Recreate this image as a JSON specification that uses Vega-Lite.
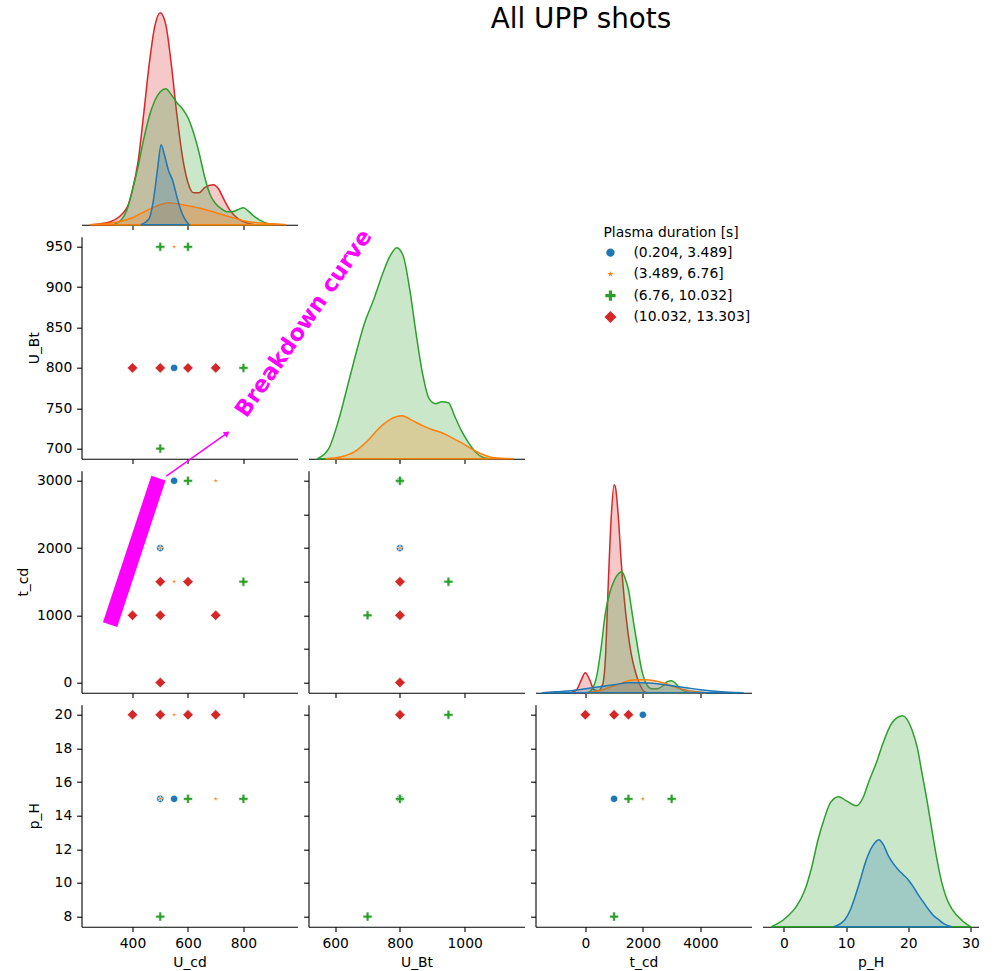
{
"$schema":"https://vega.github.io/schema/vega-lite/v6.json",
"padding":{"left":16.5,"top":2.7,"right":5,"bottom":2},
"title":{"text":"All UPP shots","fontSize":27.8,"font":"DejaVu Sans","fontWeight":"normal","color":"black","anchor":"middle","frame":"group","dx":499.5,"offset":-31},
"columns":4,
"spacing":{"row":12,"column":11},
"bounds":"flush",
"resolve":{"legend":{"color":"independent","shape":"independent"}},
"datasets":{
"pts":[
{"panel":"A","x":500,"y":950,"group":"(6.76, 10.032]"},
{"panel":"A","x":550,"y":950,"group":"(3.489, 6.76]"},
{"panel":"A","x":600,"y":950,"group":"(6.76, 10.032]"},
{"panel":"A","x":400,"y":800,"group":"(10.032, 13.303]"},
{"panel":"A","x":500,"y":800,"group":"(10.032, 13.303]"},
{"panel":"A","x":550,"y":800,"group":"(0.204, 3.489]"},
{"panel":"A","x":600,"y":800,"group":"(10.032, 13.303]"},
{"panel":"A","x":700,"y":800,"group":"(10.032, 13.303]"},
{"panel":"A","x":800,"y":800,"group":"(6.76, 10.032]"},
{"panel":"A","x":500,"y":700,"group":"(6.76, 10.032]"},
{"panel":"B","x":550,"y":3000,"group":"(0.204, 3.489]"},
{"panel":"B","x":600,"y":3000,"group":"(6.76, 10.032]"},
{"panel":"B","x":700,"y":3000,"group":"(3.489, 6.76]"},
{"panel":"B","x":500,"y":2000,"group":"(0.204, 3.489]"},
{"panel":"B","x":500,"y":2000,"group":"(3.489, 6.76]"},
{"panel":"B","x":500,"y":1500,"group":"(10.032, 13.303]"},
{"panel":"B","x":550,"y":1500,"group":"(3.489, 6.76]"},
{"panel":"B","x":600,"y":1500,"group":"(10.032, 13.303]"},
{"panel":"B","x":800,"y":1500,"group":"(6.76, 10.032]"},
{"panel":"B","x":400,"y":1000,"group":"(10.032, 13.303]"},
{"panel":"B","x":500,"y":1000,"group":"(10.032, 13.303]"},
{"panel":"B","x":700,"y":1000,"group":"(10.032, 13.303]"},
{"panel":"B","x":500,"y":0,"group":"(10.032, 13.303]"},
{"panel":"C","x":800,"y":3000,"group":"(0.204, 3.489]"},
{"panel":"C","x":800,"y":3000,"group":"(3.489, 6.76]"},
{"panel":"C","x":800,"y":3000,"group":"(6.76, 10.032]"},
{"panel":"C","x":800,"y":2000,"group":"(0.204, 3.489]"},
{"panel":"C","x":800,"y":2000,"group":"(3.489, 6.76]"},
{"panel":"C","x":800,"y":1500,"group":"(10.032, 13.303]"},
{"panel":"C","x":950,"y":1500,"group":"(6.76, 10.032]"},
{"panel":"C","x":700,"y":1000,"group":"(6.76, 10.032]"},
{"panel":"C","x":800,"y":1000,"group":"(10.032, 13.303]"},
{"panel":"C","x":800,"y":0,"group":"(10.032, 13.303]"},
{"panel":"D","x":400,"y":20,"group":"(10.032, 13.303]"},
{"panel":"D","x":500,"y":20,"group":"(10.032, 13.303]"},
{"panel":"D","x":550,"y":20,"group":"(3.489, 6.76]"},
{"panel":"D","x":600,"y":20,"group":"(10.032, 13.303]"},
{"panel":"D","x":700,"y":20,"group":"(10.032, 13.303]"},
{"panel":"D","x":500,"y":15,"group":"(0.204, 3.489]"},
{"panel":"D","x":500,"y":15,"group":"(3.489, 6.76]"},
{"panel":"D","x":550,"y":15,"group":"(0.204, 3.489]"},
{"panel":"D","x":600,"y":15,"group":"(6.76, 10.032]"},
{"panel":"D","x":700,"y":15,"group":"(3.489, 6.76]"},
{"panel":"D","x":800,"y":15,"group":"(6.76, 10.032]"},
{"panel":"D","x":500,"y":8,"group":"(6.76, 10.032]"},
{"panel":"E","x":800,"y":20,"group":"(10.032, 13.303]"},
{"panel":"E","x":950,"y":20,"group":"(6.76, 10.032]"},
{"panel":"E","x":800,"y":15,"group":"(0.204, 3.489]"},
{"panel":"E","x":800,"y":15,"group":"(3.489, 6.76]"},
{"panel":"E","x":800,"y":15,"group":"(6.76, 10.032]"},
{"panel":"E","x":700,"y":8,"group":"(6.76, 10.032]"},
{"panel":"F","x":0,"y":20,"group":"(10.032, 13.303]"},
{"panel":"F","x":1000,"y":20,"group":"(10.032, 13.303]"},
{"panel":"F","x":1500,"y":20,"group":"(10.032, 13.303]"},
{"panel":"F","x":2000,"y":20,"group":"(0.204, 3.489]"},
{"panel":"F","x":1000,"y":15,"group":"(0.204, 3.489]"},
{"panel":"F","x":1500,"y":15,"group":"(6.76, 10.032]"},
{"panel":"F","x":2000,"y":15,"group":"(3.489, 6.76]"},
{"panel":"F","x":3000,"y":15,"group":"(3.489, 6.76]"},
{"panel":"F","x":3000,"y":15,"group":"(6.76, 10.032]"},
{"panel":"F","x":1000,"y":8,"group":"(6.76, 10.032]"}
],
"kde":[
{"var":"U_cd","group":"(10.032, 13.303]","value":250,"density":0},
{"var":"U_cd","group":"(10.032, 13.303]","value":320,"density":0.003},
{"var":"U_cd","group":"(10.032, 13.303]","value":380,"density":0.017},
{"var":"U_cd","group":"(10.032, 13.303]","value":400,"density":0.035},
{"var":"U_cd","group":"(10.032, 13.303]","value":420,"density":0.063},
{"var":"U_cd","group":"(10.032, 13.303]","value":440,"density":0.110},
{"var":"U_cd","group":"(10.032, 13.303]","value":460,"density":0.160},
{"var":"U_cd","group":"(10.032, 13.303]","value":480,"density":0.198},
{"var":"U_cd","group":"(10.032, 13.303]","value":500,"density":0.212},
{"var":"U_cd","group":"(10.032, 13.303]","value":520,"density":0.200},
{"var":"U_cd","group":"(10.032, 13.303]","value":540,"density":0.160},
{"var":"U_cd","group":"(10.032, 13.303]","value":560,"density":0.110},
{"var":"U_cd","group":"(10.032, 13.303]","value":580,"density":0.068},
{"var":"U_cd","group":"(10.032, 13.303]","value":600,"density":0.042},
{"var":"U_cd","group":"(10.032, 13.303]","value":620,"density":0.032},
{"var":"U_cd","group":"(10.032, 13.303]","value":640,"density":0.032},
{"var":"U_cd","group":"(10.032, 13.303]","value":660,"density":0.037},
{"var":"U_cd","group":"(10.032, 13.303]","value":690,"density":0.040},
{"var":"U_cd","group":"(10.032, 13.303]","value":710,"density":0.036},
{"var":"U_cd","group":"(10.032, 13.303]","value":730,"density":0.025},
{"var":"U_cd","group":"(10.032, 13.303]","value":750,"density":0.015},
{"var":"U_cd","group":"(10.032, 13.303]","value":780,"density":0.006},
{"var":"U_cd","group":"(10.032, 13.303]","value":810,"density":0.002},
{"var":"U_cd","group":"(10.032, 13.303]","value":840,"density":0},
{"var":"U_cd","group":"(6.76, 10.032]","value":330,"density":0},
{"var":"U_cd","group":"(6.76, 10.032]","value":360,"density":0.005},
{"var":"U_cd","group":"(6.76, 10.032]","value":380,"density":0.015},
{"var":"U_cd","group":"(6.76, 10.032]","value":400,"density":0.035},
{"var":"U_cd","group":"(6.76, 10.032]","value":420,"density":0.058},
{"var":"U_cd","group":"(6.76, 10.032]","value":440,"density":0.085},
{"var":"U_cd","group":"(6.76, 10.032]","value":460,"density":0.108},
{"var":"U_cd","group":"(6.76, 10.032]","value":480,"density":0.124},
{"var":"U_cd","group":"(6.76, 10.032]","value":500,"density":0.133},
{"var":"U_cd","group":"(6.76, 10.032]","value":520,"density":0.136},
{"var":"U_cd","group":"(6.76, 10.032]","value":540,"density":0.130},
{"var":"U_cd","group":"(6.76, 10.032]","value":560,"density":0.122},
{"var":"U_cd","group":"(6.76, 10.032]","value":580,"density":0.116},
{"var":"U_cd","group":"(6.76, 10.032]","value":600,"density":0.107},
{"var":"U_cd","group":"(6.76, 10.032]","value":620,"density":0.092},
{"var":"U_cd","group":"(6.76, 10.032]","value":640,"density":0.072},
{"var":"U_cd","group":"(6.76, 10.032]","value":660,"density":0.048},
{"var":"U_cd","group":"(6.76, 10.032]","value":680,"density":0.030},
{"var":"U_cd","group":"(6.76, 10.032]","value":700,"density":0.021},
{"var":"U_cd","group":"(6.76, 10.032]","value":720,"density":0.016},
{"var":"U_cd","group":"(6.76, 10.032]","value":740,"density":0.013},
{"var":"U_cd","group":"(6.76, 10.032]","value":760,"density":0.013},
{"var":"U_cd","group":"(6.76, 10.032]","value":780,"density":0.015},
{"var":"U_cd","group":"(6.76, 10.032]","value":800,"density":0.017},
{"var":"U_cd","group":"(6.76, 10.032]","value":820,"density":0.013},
{"var":"U_cd","group":"(6.76, 10.032]","value":840,"density":0.008},
{"var":"U_cd","group":"(6.76, 10.032]","value":870,"density":0.003},
{"var":"U_cd","group":"(6.76, 10.032]","value":900,"density":0},
{"var":"U_cd","group":"(3.489, 6.76]","value":245,"density":0},
{"var":"U_cd","group":"(3.489, 6.76]","value":300,"density":0.001},
{"var":"U_cd","group":"(3.489, 6.76]","value":350,"density":0.003},
{"var":"U_cd","group":"(3.489, 6.76]","value":400,"density":0.007},
{"var":"U_cd","group":"(3.489, 6.76]","value":450,"density":0.014},
{"var":"U_cd","group":"(3.489, 6.76]","value":500,"density":0.020},
{"var":"U_cd","group":"(3.489, 6.76]","value":530,"density":0.022},
{"var":"U_cd","group":"(3.489, 6.76]","value":560,"density":0.021},
{"var":"U_cd","group":"(3.489, 6.76]","value":600,"density":0.019},
{"var":"U_cd","group":"(3.489, 6.76]","value":650,"density":0.016},
{"var":"U_cd","group":"(3.489, 6.76]","value":700,"density":0.012},
{"var":"U_cd","group":"(3.489, 6.76]","value":750,"density":0.008},
{"var":"U_cd","group":"(3.489, 6.76]","value":800,"density":0.004},
{"var":"U_cd","group":"(3.489, 6.76]","value":850,"density":0.002},
{"var":"U_cd","group":"(3.489, 6.76]","value":900,"density":0.001},
{"var":"U_cd","group":"(3.489, 6.76]","value":955,"density":0},
{"var":"U_cd","group":"(0.204, 3.489]","value":430,"density":0},
{"var":"U_cd","group":"(0.204, 3.489]","value":460,"density":0.006},
{"var":"U_cd","group":"(0.204, 3.489]","value":475,"density":0.024},
{"var":"U_cd","group":"(0.204, 3.489]","value":490,"density":0.055},
{"var":"U_cd","group":"(0.204, 3.489]","value":503,"density":0.080},
{"var":"U_cd","group":"(0.204, 3.489]","value":515,"density":0.070},
{"var":"U_cd","group":"(0.204, 3.489]","value":530,"density":0.054},
{"var":"U_cd","group":"(0.204, 3.489]","value":545,"density":0.044},
{"var":"U_cd","group":"(0.204, 3.489]","value":560,"density":0.028},
{"var":"U_cd","group":"(0.204, 3.489]","value":575,"density":0.014},
{"var":"U_cd","group":"(0.204, 3.489]","value":590,"density":0.005},
{"var":"U_cd","group":"(0.204, 3.489]","value":605,"density":0},
{"var":"U_Bt","group":"(6.76, 10.032]","value":545,"density":0},
{"var":"U_Bt","group":"(6.76, 10.032]","value":580,"density":0.010},
{"var":"U_Bt","group":"(6.76, 10.032]","value":610,"density":0.038},
{"var":"U_Bt","group":"(6.76, 10.032]","value":640,"density":0.075},
{"var":"U_Bt","group":"(6.76, 10.032]","value":660,"density":0.100},
{"var":"U_Bt","group":"(6.76, 10.032]","value":690,"density":0.135},
{"var":"U_Bt","group":"(6.76, 10.032]","value":720,"density":0.160},
{"var":"U_Bt","group":"(6.76, 10.032]","value":750,"density":0.188},
{"var":"U_Bt","group":"(6.76, 10.032]","value":770,"density":0.203},
{"var":"U_Bt","group":"(6.76, 10.032]","value":790,"density":0.211},
{"var":"U_Bt","group":"(6.76, 10.032]","value":810,"density":0.203},
{"var":"U_Bt","group":"(6.76, 10.032]","value":830,"density":0.170},
{"var":"U_Bt","group":"(6.76, 10.032]","value":850,"density":0.125},
{"var":"U_Bt","group":"(6.76, 10.032]","value":870,"density":0.085},
{"var":"U_Bt","group":"(6.76, 10.032]","value":890,"density":0.060},
{"var":"U_Bt","group":"(6.76, 10.032]","value":910,"density":0.055},
{"var":"U_Bt","group":"(6.76, 10.032]","value":930,"density":0.057},
{"var":"U_Bt","group":"(6.76, 10.032]","value":950,"density":0.056},
{"var":"U_Bt","group":"(6.76, 10.032]","value":970,"density":0.042},
{"var":"U_Bt","group":"(6.76, 10.032]","value":990,"density":0.028},
{"var":"U_Bt","group":"(6.76, 10.032]","value":1010,"density":0.017},
{"var":"U_Bt","group":"(6.76, 10.032]","value":1030,"density":0.008},
{"var":"U_Bt","group":"(6.76, 10.032]","value":1060,"density":0.001},
{"var":"U_Bt","group":"(6.76, 10.032]","value":1080,"density":0},
{"var":"U_Bt","group":"(3.489, 6.76]","value":570,"density":0},
{"var":"U_Bt","group":"(3.489, 6.76]","value":620,"density":0.002},
{"var":"U_Bt","group":"(3.489, 6.76]","value":660,"density":0.007},
{"var":"U_Bt","group":"(3.489, 6.76]","value":700,"density":0.018},
{"var":"U_Bt","group":"(3.489, 6.76]","value":740,"density":0.032},
{"var":"U_Bt","group":"(3.489, 6.76]","value":780,"density":0.041},
{"var":"U_Bt","group":"(3.489, 6.76]","value":806,"density":0.043},
{"var":"U_Bt","group":"(3.489, 6.76]","value":840,"density":0.038},
{"var":"U_Bt","group":"(3.489, 6.76]","value":870,"density":0.033},
{"var":"U_Bt","group":"(3.489, 6.76]","value":900,"density":0.029},
{"var":"U_Bt","group":"(3.489, 6.76]","value":930,"density":0.026},
{"var":"U_Bt","group":"(3.489, 6.76]","value":960,"density":0.021},
{"var":"U_Bt","group":"(3.489, 6.76]","value":990,"density":0.016},
{"var":"U_Bt","group":"(3.489, 6.76]","value":1020,"density":0.010},
{"var":"U_Bt","group":"(3.489, 6.76]","value":1050,"density":0.005},
{"var":"U_Bt","group":"(3.489, 6.76]","value":1090,"density":0.001},
{"var":"U_Bt","group":"(3.489, 6.76]","value":1150,"density":0},
{"var":"t_cd","group":"(10.032, 13.303]","value":-500,"density":0},
{"var":"t_cd","group":"(10.032, 13.303]","value":-300,"density":0.003},
{"var":"t_cd","group":"(10.032, 13.303]","value":-150,"density":0.012},
{"var":"t_cd","group":"(10.032, 13.303]","value":0,"density":0.020},
{"var":"t_cd","group":"(10.032, 13.303]","value":150,"density":0.013},
{"var":"t_cd","group":"(10.032, 13.303]","value":300,"density":0.003},
{"var":"t_cd","group":"(10.032, 13.303]","value":450,"density":0.002},
{"var":"t_cd","group":"(10.032, 13.303]","value":600,"density":0.008},
{"var":"t_cd","group":"(10.032, 13.303]","value":700,"density":0.035},
{"var":"t_cd","group":"(10.032, 13.303]","value":800,"density":0.110},
{"var":"t_cd","group":"(10.032, 13.303]","value":900,"density":0.175},
{"var":"t_cd","group":"(10.032, 13.303]","value":1000,"density":0.208},
{"var":"t_cd","group":"(10.032, 13.303]","value":1050,"density":0.205},
{"var":"t_cd","group":"(10.032, 13.303]","value":1150,"density":0.175},
{"var":"t_cd","group":"(10.032, 13.303]","value":1250,"density":0.130},
{"var":"t_cd","group":"(10.032, 13.303]","value":1350,"density":0.095},
{"var":"t_cd","group":"(10.032, 13.303]","value":1450,"density":0.068},
{"var":"t_cd","group":"(10.032, 13.303]","value":1600,"density":0.038},
{"var":"t_cd","group":"(10.032, 13.303]","value":1750,"density":0.020},
{"var":"t_cd","group":"(10.032, 13.303]","value":1900,"density":0.008},
{"var":"t_cd","group":"(10.032, 13.303]","value":2050,"density":0.001},
{"var":"t_cd","group":"(10.032, 13.303]","value":2150,"density":0},
{"var":"t_cd","group":"(6.76, 10.032]","value":100,"density":0},
{"var":"t_cd","group":"(6.76, 10.032]","value":250,"density":0.004},
{"var":"t_cd","group":"(6.76, 10.032]","value":400,"density":0.017},
{"var":"t_cd","group":"(6.76, 10.032]","value":550,"density":0.045},
{"var":"t_cd","group":"(6.76, 10.032]","value":700,"density":0.080},
{"var":"t_cd","group":"(6.76, 10.032]","value":850,"density":0.100},
{"var":"t_cd","group":"(6.76, 10.032]","value":1000,"density":0.112},
{"var":"t_cd","group":"(6.76, 10.032]","value":1150,"density":0.119},
{"var":"t_cd","group":"(6.76, 10.032]","value":1270,"density":0.121},
{"var":"t_cd","group":"(6.76, 10.032]","value":1400,"density":0.113},
{"var":"t_cd","group":"(6.76, 10.032]","value":1500,"density":0.103},
{"var":"t_cd","group":"(6.76, 10.032]","value":1600,"density":0.085},
{"var":"t_cd","group":"(6.76, 10.032]","value":1700,"density":0.066},
{"var":"t_cd","group":"(6.76, 10.032]","value":1850,"density":0.040},
{"var":"t_cd","group":"(6.76, 10.032]","value":1950,"density":0.024},
{"var":"t_cd","group":"(6.76, 10.032]","value":2100,"density":0.010},
{"var":"t_cd","group":"(6.76, 10.032]","value":2300,"density":0.004},
{"var":"t_cd","group":"(6.76, 10.032]","value":2500,"density":0.004},
{"var":"t_cd","group":"(6.76, 10.032]","value":2700,"density":0.007},
{"var":"t_cd","group":"(6.76, 10.032]","value":2850,"density":0.011},
{"var":"t_cd","group":"(6.76, 10.032]","value":3000,"density":0.012},
{"var":"t_cd","group":"(6.76, 10.032]","value":3150,"density":0.009},
{"var":"t_cd","group":"(6.76, 10.032]","value":3300,"density":0.004},
{"var":"t_cd","group":"(6.76, 10.032]","value":3500,"density":0.001},
{"var":"t_cd","group":"(6.76, 10.032]","value":3700,"density":0},
{"var":"t_cd","group":"(3.489, 6.76]","value":0,"density":0},
{"var":"t_cd","group":"(3.489, 6.76]","value":300,"density":0.001},
{"var":"t_cd","group":"(3.489, 6.76]","value":600,"density":0.003},
{"var":"t_cd","group":"(3.489, 6.76]","value":900,"density":0.006},
{"var":"t_cd","group":"(3.489, 6.76]","value":1200,"density":0.009},
{"var":"t_cd","group":"(3.489, 6.76]","value":1500,"density":0.012},
{"var":"t_cd","group":"(3.489, 6.76]","value":1800,"density":0.013},
{"var":"t_cd","group":"(3.489, 6.76]","value":2100,"density":0.013},
{"var":"t_cd","group":"(3.489, 6.76]","value":2400,"density":0.012},
{"var":"t_cd","group":"(3.489, 6.76]","value":2700,"density":0.010},
{"var":"t_cd","group":"(3.489, 6.76]","value":3000,"density":0.007},
{"var":"t_cd","group":"(3.489, 6.76]","value":3300,"density":0.004},
{"var":"t_cd","group":"(3.489, 6.76]","value":3600,"density":0.002},
{"var":"t_cd","group":"(3.489, 6.76]","value":3900,"density":0.001},
{"var":"t_cd","group":"(3.489, 6.76]","value":4200,"density":0},
{"var":"t_cd","group":"(0.204, 3.489]","value":-1500,"density":0},
{"var":"t_cd","group":"(0.204, 3.489]","value":-1000,"density":0.001},
{"var":"t_cd","group":"(0.204, 3.489]","value":-500,"density":0.002},
{"var":"t_cd","group":"(0.204, 3.489]","value":0,"density":0.004},
{"var":"t_cd","group":"(0.204, 3.489]","value":500,"density":0.006},
{"var":"t_cd","group":"(0.204, 3.489]","value":1000,"density":0.008},
{"var":"t_cd","group":"(0.204, 3.489]","value":1500,"density":0.010},
{"var":"t_cd","group":"(0.204, 3.489]","value":2000,"density":0.010},
{"var":"t_cd","group":"(0.204, 3.489]","value":2500,"density":0.009},
{"var":"t_cd","group":"(0.204, 3.489]","value":3000,"density":0.007},
{"var":"t_cd","group":"(0.204, 3.489]","value":3500,"density":0.005},
{"var":"t_cd","group":"(0.204, 3.489]","value":4000,"density":0.003},
{"var":"t_cd","group":"(0.204, 3.489]","value":4500,"density":0.0015},
{"var":"t_cd","group":"(0.204, 3.489]","value":5000,"density":0.0005},
{"var":"t_cd","group":"(0.204, 3.489]","value":5500,"density":0},
{"var":"p_H","group":"(6.76, 10.032]","value":-2,"density":0},
{"var":"p_H","group":"(6.76, 10.032]","value":-1,"density":0.003},
{"var":"p_H","group":"(6.76, 10.032]","value":0.7,"density":0.011},
{"var":"p_H","group":"(6.76, 10.032]","value":2,"density":0.020},
{"var":"p_H","group":"(6.76, 10.032]","value":3.4,"density":0.037},
{"var":"p_H","group":"(6.76, 10.032]","value":4.5,"density":0.060},
{"var":"p_H","group":"(6.76, 10.032]","value":5.5,"density":0.087},
{"var":"p_H","group":"(6.76, 10.032]","value":6.5,"density":0.108},
{"var":"p_H","group":"(6.76, 10.032]","value":7.5,"density":0.124},
{"var":"p_H","group":"(6.76, 10.032]","value":8.8,"density":0.130},
{"var":"p_H","group":"(6.76, 10.032]","value":10,"density":0.126},
{"var":"p_H","group":"(6.76, 10.032]","value":11.7,"density":0.121},
{"var":"p_H","group":"(6.76, 10.032]","value":12.8,"density":0.130},
{"var":"p_H","group":"(6.76, 10.032]","value":13.6,"density":0.144},
{"var":"p_H","group":"(6.76, 10.032]","value":15,"density":0.166},
{"var":"p_H","group":"(6.76, 10.032]","value":15.8,"density":0.181},
{"var":"p_H","group":"(6.76, 10.032]","value":17.4,"density":0.204},
{"var":"p_H","group":"(6.76, 10.032]","value":19.1,"density":0.211},
{"var":"p_H","group":"(6.76, 10.032]","value":20.6,"density":0.197},
{"var":"p_H","group":"(6.76, 10.032]","value":21.5,"density":0.178},
{"var":"p_H","group":"(6.76, 10.032]","value":22.2,"density":0.154},
{"var":"p_H","group":"(6.76, 10.032]","value":23,"density":0.127},
{"var":"p_H","group":"(6.76, 10.032]","value":23.8,"density":0.097},
{"var":"p_H","group":"(6.76, 10.032]","value":24.6,"density":0.068},
{"var":"p_H","group":"(6.76, 10.032]","value":25.4,"density":0.044},
{"var":"p_H","group":"(6.76, 10.032]","value":26.2,"density":0.028},
{"var":"p_H","group":"(6.76, 10.032]","value":27.1,"density":0.017},
{"var":"p_H","group":"(6.76, 10.032]","value":28.7,"density":0.006},
{"var":"p_H","group":"(6.76, 10.032]","value":30,"density":0},
{"var":"p_H","group":"(0.204, 3.489]","value":8,"density":0},
{"var":"p_H","group":"(0.204, 3.489]","value":9.8,"density":0.007},
{"var":"p_H","group":"(0.204, 3.489]","value":10.7,"density":0.017},
{"var":"p_H","group":"(0.204, 3.489]","value":11.5,"density":0.031},
{"var":"p_H","group":"(0.204, 3.489]","value":12.3,"density":0.047},
{"var":"p_H","group":"(0.204, 3.489]","value":13.1,"density":0.064},
{"var":"p_H","group":"(0.204, 3.489]","value":14.2,"density":0.080},
{"var":"p_H","group":"(0.204, 3.489]","value":15.3,"density":0.087},
{"var":"p_H","group":"(0.204, 3.489]","value":16,"density":0.082},
{"var":"p_H","group":"(0.204, 3.489]","value":16.8,"density":0.071},
{"var":"p_H","group":"(0.204, 3.489]","value":17.6,"density":0.063},
{"var":"p_H","group":"(0.204, 3.489]","value":18.4,"density":0.057},
{"var":"p_H","group":"(0.204, 3.489]","value":19.2,"density":0.052},
{"var":"p_H","group":"(0.204, 3.489]","value":20,"density":0.047},
{"var":"p_H","group":"(0.204, 3.489]","value":20.8,"density":0.040},
{"var":"p_H","group":"(0.204, 3.489]","value":21.7,"density":0.031},
{"var":"p_H","group":"(0.204, 3.489]","value":22.5,"density":0.024},
{"var":"p_H","group":"(0.204, 3.489]","value":23.3,"density":0.017},
{"var":"p_H","group":"(0.204, 3.489]","value":24.1,"density":0.011},
{"var":"p_H","group":"(0.204, 3.489]","value":24.9,"density":0.007},
{"var":"p_H","group":"(0.204, 3.489]","value":26,"density":0.002},
{"var":"p_H","group":"(0.204, 3.489]","value":27,"density":0}
]
},
"concat":[
{"width":216,"height":222,"data":{"name":"kde"},"transform":[{"filter":"datum.var === 'U_cd'"}],
 "mark":{"type":"area","fillOpacity":0.25,"strokeWidth":1.5,"interpolate":"monotone"},
 "encoding":{
  "x":{"field":"value","type":"quantitative","scale":{"domain":[216,995],"nice":false,"zero":false},"axis":{"values":[400,600,800],"labels":false,"title":null}},
  "y":{"field":"density","type":"quantitative","stack":null,"scale":{"domain":[0,0.222],"nice":false},"axis":null},
  "fill":{"field":"group","type":"nominal","scale":{"domain":["(0.204, 3.489]","(3.489, 6.76]","(6.76, 10.032]","(10.032, 13.303]"],"range":["#1f77b4","#ff7f0e","#2ca02c","#d62728"]},"legend":null},
  "stroke":{"field":"group","type":"nominal","scale":{"domain":["(0.204, 3.489]","(3.489, 6.76]","(6.76, 10.032]","(10.032, 13.303]"],"range":["#1f77b4","#ff7f0e","#2ca02c","#d62728"]},"legend":null}
 }},
{"width":216,"height":222,"data":{"values":[{}]},"mark":{"type":"point","opacity":0},"encoding":{}},
{"width":216,"height":222,"data":{"values":[{}]},"mark":{"type":"point","opacity":0},"encoding":{}},
{"width":216,"height":222,"data":{"values":[{}]},"mark":{"type":"point","opacity":0},"encoding":{}},
{"width":216,"height":222,
 "layer":[
  {"data":{"name":"pts"},"transform":[{"filter":"datum.panel === 'A'"}],
   "mark":{"type":"point","filled":true,"opacity":1,"size":100,"stroke":"white","strokeWidth":0.6},
   "encoding":{
    "x":{"field":"x","type":"quantitative","scale":{"domain":[216,995],"nice":false,"zero":false},"axis":{"values":[400,600,800],"labels":false,"title":null}},
    "y":{"field":"y","type":"quantitative","scale":{"domain":[687.5,962.5],"nice":false,"zero":false},"axis":{"values":[700,750,800,850,900,950],"title":"U_Bt","titleX":-40}},
    "color":{"field":"group","type":"nominal","scale":{"domain":["(0.204, 3.489]","(3.489, 6.76]","(6.76, 10.032]","(10.032, 13.303]"],"range":["#1f77b4","#ff7f0e","#2ca02c","#d62728"]},"legend":{"title":"Plasma duration [s]","orient":"none","legendX":522,"legendY":-11}},
    "shape":{"field":"group","type":"nominal","scale":{"domain":["(0.204, 3.489]","(3.489, 6.76]","(6.76, 10.032]","(10.032, 13.303]"],"range":["M-0.73,0A0.73,0.73,0,1,1,0.73,0A0.73,0.73,0,1,1,-0.73,0Z","M0,-0.55L0.123,-0.17L0.523,-0.17L0.2,0.065L0.323,0.445L0,0.21L-0.323,0.445L-0.2,0.065L-0.523,-0.17L-0.123,-0.17Z","M-0.28,-0.9L0.28,-0.9L0.28,-0.28L0.9,-0.28L0.9,0.28L0.28,0.28L0.28,0.9L-0.28,0.9L-0.28,0.28L-0.9,0.28L-0.9,-0.28L-0.28,-0.28Z","M0,-1.05L1.05,0L0,1.05L-1.05,0Z"]},"legend":{"title":"Plasma duration [s]","orient":"none","legendX":522,"legendY":-11}}
   }},
  {"data":{"values":[{"x":522,"y":666,"x2":745,"y2":720}]},
   "mark":{"type":"rule","color":"#ff00ff","strokeWidth":1.5},
   "encoding":{"x":{"field":"x","type":"quantitative"},"y":{"field":"y","type":"quantitative"},"x2":{"field":"x2"},"y2":{"field":"y2"}}},
  {"data":{"values":[{"x":741,"y":719}]},
   "mark":{"type":"point","shape":"triangle-up","filled":true,"color":"#ff00ff","opacity":1,"angle":55,"size":45},
   "encoding":{"x":{"field":"x","type":"quantitative"},"y":{"field":"y","type":"quantitative"}}},
  {"data":{"values":[{"x":1018,"y":855,"label":"Breakdown curve"}]},
   "mark":{"type":"text","angle":-55.4,"fontSize":22.7,"fontWeight":"bold","font":"DejaVu Sans","color":"#ff00ff","align":"center","baseline":"middle"},
   "encoding":{"x":{"field":"x","type":"quantitative"},"y":{"field":"y","type":"quantitative"},"text":{"field":"label"}}}
 ]},
{"width":216,"height":222,"data":{"name":"kde"},"transform":[{"filter":"datum.var === 'U_Bt'"}],
 "mark":{"type":"area","fillOpacity":0.25,"strokeWidth":1.5,"interpolate":"monotone"},
 "encoding":{
  "x":{"field":"value","type":"quantitative","scale":{"domain":[517.5,1185],"nice":false,"zero":false},"axis":{"values":[600,800,1000],"labels":false,"title":null}},
  "y":{"field":"density","type":"quantitative","stack":null,"scale":{"domain":[0,0.222],"nice":false},"axis":null},
  "fill":{"field":"group","type":"nominal","scale":{"domain":["(0.204, 3.489]","(3.489, 6.76]","(6.76, 10.032]","(10.032, 13.303]"],"range":["#1f77b4","#ff7f0e","#2ca02c","#d62728"]},"legend":null},
  "stroke":{"field":"group","type":"nominal","scale":{"domain":["(0.204, 3.489]","(3.489, 6.76]","(6.76, 10.032]","(10.032, 13.303]"],"range":["#1f77b4","#ff7f0e","#2ca02c","#d62728"]},"legend":null}
 }},
{"width":216,"height":222,"data":{"values":[{}]},"mark":{"type":"point","opacity":0},"encoding":{}},
{"width":216,"height":222,"data":{"values":[{}]},"mark":{"type":"point","opacity":0},"encoding":{}},
{"width":216,"height":222,
 "layer":[
  {"data":{"name":"pts"},"transform":[{"filter":"datum.panel === 'B'"}],
   "mark":{"type":"point","filled":true,"opacity":1,"size":100,"stroke":"white","strokeWidth":0.6},
   "encoding":{
    "x":{"field":"x","type":"quantitative","scale":{"domain":[216,995],"nice":false,"zero":false},"axis":{"values":[400,600,800],"labels":false,"title":null}},
    "y":{"field":"y","type":"quantitative","scale":{"domain":[-150,3150],"nice":false,"zero":false},"axis":{"values":[0,500,1000,1500,2000,2500,3000],"format":"d","title":"t_cd","titleX":-51}},
    "color":{"field":"group","type":"nominal","scale":{"domain":["(0.204, 3.489]","(3.489, 6.76]","(6.76, 10.032]","(10.032, 13.303]"],"range":["#1f77b4","#ff7f0e","#2ca02c","#d62728"]},"legend":null},
    "shape":{"field":"group","type":"nominal","scale":{"domain":["(0.204, 3.489]","(3.489, 6.76]","(6.76, 10.032]","(10.032, 13.303]"],"range":["M-0.73,0A0.73,0.73,0,1,1,0.73,0A0.73,0.73,0,1,1,-0.73,0Z","M0,-0.55L0.123,-0.17L0.523,-0.17L0.2,0.065L0.323,0.445L0,0.21L-0.323,0.445L-0.2,0.065L-0.523,-0.17L-0.123,-0.17Z","M-0.28,-0.9L0.28,-0.9L0.28,-0.28L0.9,-0.28L0.9,0.28L0.28,0.28L0.28,0.9L-0.28,0.9L-0.28,0.28L-0.9,0.28L-0.9,-0.28L-0.28,-0.28Z","M0,-1.05L1.05,0L0,1.05L-1.05,0Z"]},"legend":null}
   }},
  {"data":{"values":[{"x":319,"y":863,"x2":493.5,"y2":3040}]},
   "mark":{"type":"rule","color":"#ff00ff","strokeWidth":15,"strokeCap":"butt"},
   "encoding":{"x":{"field":"x","type":"quantitative"},"y":{"field":"y","type":"quantitative"},"x2":{"field":"x2"},"y2":{"field":"y2"}}}
 ]},
{"width":216,"height":222,"data":{"name":"pts"},"transform":[{"filter":"datum.panel === 'C'"}],
 "mark":{"type":"point","filled":true,"opacity":1,"size":100,"stroke":"white","strokeWidth":0.6},
 "encoding":{
  "x":{"field":"x","type":"quantitative","scale":{"domain":[517.5,1185],"nice":false,"zero":false},"axis":{"values":[600,800,1000],"labels":false,"title":null}},
  "y":{"field":"y","type":"quantitative","scale":{"domain":[-150,3150],"nice":false,"zero":false},"axis":{"values":[0,500,1000,1500,2000,2500,3000],"labels":false,"title":null}},
  "color":{"field":"group","type":"nominal","scale":{"domain":["(0.204, 3.489]","(3.489, 6.76]","(6.76, 10.032]","(10.032, 13.303]"],"range":["#1f77b4","#ff7f0e","#2ca02c","#d62728"]},"legend":null},
  "shape":{"field":"group","type":"nominal","scale":{"domain":["(0.204, 3.489]","(3.489, 6.76]","(6.76, 10.032]","(10.032, 13.303]"],"range":["M-0.73,0A0.73,0.73,0,1,1,0.73,0A0.73,0.73,0,1,1,-0.73,0Z","M0,-0.55L0.123,-0.17L0.523,-0.17L0.2,0.065L0.323,0.445L0,0.21L-0.323,0.445L-0.2,0.065L-0.523,-0.17L-0.123,-0.17Z","M-0.28,-0.9L0.28,-0.9L0.28,-0.28L0.9,-0.28L0.9,0.28L0.28,0.28L0.28,0.9L-0.28,0.9L-0.28,0.28L-0.9,0.28L-0.9,-0.28L-0.28,-0.28Z","M0,-1.05L1.05,0L0,1.05L-1.05,0Z"]},"legend":null}
 }},
{"width":216,"height":222,"data":{"name":"kde"},"transform":[{"filter":"datum.var === 't_cd'"}],
 "mark":{"type":"area","fillOpacity":0.25,"strokeWidth":1.5,"interpolate":"monotone"},
 "encoding":{
  "x":{"field":"value","type":"quantitative","scale":{"domain":[-1730,5775],"nice":false,"zero":false},"axis":{"values":[0,2000,4000],"labels":false,"title":null}},
  "y":{"field":"density","type":"quantitative","stack":null,"scale":{"domain":[0,0.222],"nice":false},"axis":null},
  "fill":{"field":"group","type":"nominal","scale":{"domain":["(0.204, 3.489]","(3.489, 6.76]","(6.76, 10.032]","(10.032, 13.303]"],"range":["#1f77b4","#ff7f0e","#2ca02c","#d62728"]},"legend":null},
  "stroke":{"field":"group","type":"nominal","scale":{"domain":["(0.204, 3.489]","(3.489, 6.76]","(6.76, 10.032]","(10.032, 13.303]"],"range":["#1f77b4","#ff7f0e","#2ca02c","#d62728"]},"legend":null}
 }},
{"width":216,"height":222,"data":{"values":[{}]},"mark":{"type":"point","opacity":0},"encoding":{}},
{"width":216,"height":222,"data":{"name":"pts"},"transform":[{"filter":"datum.panel === 'D'"}],
 "mark":{"type":"point","filled":true,"opacity":1,"size":100,"stroke":"white","strokeWidth":0.6},
 "encoding":{
  "x":{"field":"x","type":"quantitative","scale":{"domain":[216,995],"nice":false,"zero":false},"axis":{"values":[400,600,800],"title":"U_cd"}},
  "y":{"field":"y","type":"quantitative","scale":{"domain":[7.4,20.6],"nice":false,"zero":false},"axis":{"values":[8,10,12,14,16,18,20],"title":"p_H","titleX":-40}},
  "color":{"field":"group","type":"nominal","scale":{"domain":["(0.204, 3.489]","(3.489, 6.76]","(6.76, 10.032]","(10.032, 13.303]"],"range":["#1f77b4","#ff7f0e","#2ca02c","#d62728"]},"legend":null},
  "shape":{"field":"group","type":"nominal","scale":{"domain":["(0.204, 3.489]","(3.489, 6.76]","(6.76, 10.032]","(10.032, 13.303]"],"range":["M-0.73,0A0.73,0.73,0,1,1,0.73,0A0.73,0.73,0,1,1,-0.73,0Z","M0,-0.55L0.123,-0.17L0.523,-0.17L0.2,0.065L0.323,0.445L0,0.21L-0.323,0.445L-0.2,0.065L-0.523,-0.17L-0.123,-0.17Z","M-0.28,-0.9L0.28,-0.9L0.28,-0.28L0.9,-0.28L0.9,0.28L0.28,0.28L0.28,0.9L-0.28,0.9L-0.28,0.28L-0.9,0.28L-0.9,-0.28L-0.28,-0.28Z","M0,-1.05L1.05,0L0,1.05L-1.05,0Z"]},"legend":null}
 }},
{"width":216,"height":222,"data":{"name":"pts"},"transform":[{"filter":"datum.panel === 'E'"}],
 "mark":{"type":"point","filled":true,"opacity":1,"size":100,"stroke":"white","strokeWidth":0.6},
 "encoding":{
  "x":{"field":"x","type":"quantitative","scale":{"domain":[517.5,1185],"nice":false,"zero":false},"axis":{"values":[600,800,1000],"format":"d","title":"U_Bt"}},
  "y":{"field":"y","type":"quantitative","scale":{"domain":[7.4,20.6],"nice":false,"zero":false},"axis":{"values":[8,10,12,14,16,18,20],"labels":false,"title":null}},
  "color":{"field":"group","type":"nominal","scale":{"domain":["(0.204, 3.489]","(3.489, 6.76]","(6.76, 10.032]","(10.032, 13.303]"],"range":["#1f77b4","#ff7f0e","#2ca02c","#d62728"]},"legend":null},
  "shape":{"field":"group","type":"nominal","scale":{"domain":["(0.204, 3.489]","(3.489, 6.76]","(6.76, 10.032]","(10.032, 13.303]"],"range":["M-0.73,0A0.73,0.73,0,1,1,0.73,0A0.73,0.73,0,1,1,-0.73,0Z","M0,-0.55L0.123,-0.17L0.523,-0.17L0.2,0.065L0.323,0.445L0,0.21L-0.323,0.445L-0.2,0.065L-0.523,-0.17L-0.123,-0.17Z","M-0.28,-0.9L0.28,-0.9L0.28,-0.28L0.9,-0.28L0.9,0.28L0.28,0.28L0.28,0.9L-0.28,0.9L-0.28,0.28L-0.9,0.28L-0.9,-0.28L-0.28,-0.28Z","M0,-1.05L1.05,0L0,1.05L-1.05,0Z"]},"legend":null}
 }},
{"width":216,"height":222,"data":{"name":"pts"},"transform":[{"filter":"datum.panel === 'F'"}],
 "mark":{"type":"point","filled":true,"opacity":1,"size":100,"stroke":"white","strokeWidth":0.6},
 "encoding":{
  "x":{"field":"x","type":"quantitative","scale":{"domain":[-1730,5775],"nice":false,"zero":false},"axis":{"values":[0,2000,4000],"format":"d","title":"t_cd"}},
  "y":{"field":"y","type":"quantitative","scale":{"domain":[7.4,20.6],"nice":false,"zero":false},"axis":{"values":[8,10,12,14,16,18,20],"labels":false,"title":null}},
  "color":{"field":"group","type":"nominal","scale":{"domain":["(0.204, 3.489]","(3.489, 6.76]","(6.76, 10.032]","(10.032, 13.303]"],"range":["#1f77b4","#ff7f0e","#2ca02c","#d62728"]},"legend":null},
  "shape":{"field":"group","type":"nominal","scale":{"domain":["(0.204, 3.489]","(3.489, 6.76]","(6.76, 10.032]","(10.032, 13.303]"],"range":["M-0.73,0A0.73,0.73,0,1,1,0.73,0A0.73,0.73,0,1,1,-0.73,0Z","M0,-0.55L0.123,-0.17L0.523,-0.17L0.2,0.065L0.323,0.445L0,0.21L-0.323,0.445L-0.2,0.065L-0.523,-0.17L-0.123,-0.17Z","M-0.28,-0.9L0.28,-0.9L0.28,-0.28L0.9,-0.28L0.9,0.28L0.28,0.28L0.28,0.9L-0.28,0.9L-0.28,0.28L-0.9,0.28L-0.9,-0.28L-0.28,-0.28Z","M0,-1.05L1.05,0L0,1.05L-1.05,0Z"]},"legend":null}
 }},
{"width":216,"height":222,"data":{"name":"kde"},"transform":[{"filter":"datum.var === 'p_H'"}],
 "mark":{"type":"area","fillOpacity":0.25,"strokeWidth":1.5,"interpolate":"monotone"},
 "encoding":{
  "x":{"field":"value","type":"quantitative","scale":{"domain":[-3.43,31.3],"nice":false,"zero":false},"axis":{"values":[0,10,20,30],"title":"p_H"}},
  "y":{"field":"density","type":"quantitative","stack":null,"scale":{"domain":[0,0.222],"nice":false},"axis":null},
  "fill":{"field":"group","type":"nominal","scale":{"domain":["(0.204, 3.489]","(3.489, 6.76]","(6.76, 10.032]","(10.032, 13.303]"],"range":["#1f77b4","#ff7f0e","#2ca02c","#d62728"]},"legend":null},
  "stroke":{"field":"group","type":"nominal","scale":{"domain":["(0.204, 3.489]","(3.489, 6.76]","(6.76, 10.032]","(10.032, 13.303]"],"range":["#1f77b4","#ff7f0e","#2ca02c","#d62728"]},"legend":null}
 }}
],
"config":{
 "view":{"stroke":null},
 "font":"DejaVu Sans",
 "axis":{"domainColor":"black","tickColor":"black","labelColor":"black","titleColor":"black","labelFont":"DejaVu Sans","titleFont":"DejaVu Sans","labelFontSize":13.9,"titleFontSize":13.9,"titleFontWeight":"normal","tickSize":4.9,"tickWidth":1.1,"domainWidth":1.1,"grid":false,"labelPadding":4.9,"titlePadding":4.9,"labelFlush":false,"labelOverlap":false},
 "legend":{"titleFont":"DejaVu Sans","titleFontSize":13.9,"titleFontWeight":"normal","titleColor":"black","labelFont":"DejaVu Sans","labelFontSize":13.9,"labelColor":"black","symbolSize":130,"rowPadding":6.5,"labelOffset":16,"titlePadding":6,"symbolStrokeWidth":0}
}
}
